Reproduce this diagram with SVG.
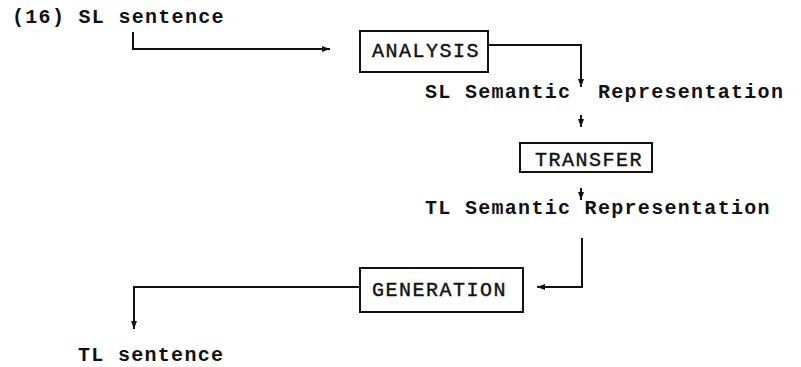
<svg xmlns="http://www.w3.org/2000/svg" width="801" height="367" viewBox="0 0 801 367">
<style>
  .t { font-family: "Liberation Mono", "DejaVu Sans Mono", monospace; font-size: 20px; font-weight: bold; letter-spacing: 1.3px; fill: #111; }
  .b { font-family: "Liberation Mono", "DejaVu Sans Mono", monospace; font-size: 20px; font-weight: normal; letter-spacing: 1.5px; fill: #111; stroke: #111; stroke-width: 0.4; }
  .box { fill: #fff; stroke: #111; stroke-width: 2; }
  .c { fill: none; stroke: #111; stroke-width: 2; }
</style>
<defs>
  <marker id="ah" markerUnits="userSpaceOnUse" markerWidth="9" markerHeight="8" refX="8" refY="4" orient="auto">
    <path d="M0,1 L8,4 L0,7 Z" fill="#111"/>
  </marker>
</defs>
<rect width="801" height="367" fill="#fff"/>

<g id="connectors">
  <path class="c" d="M133,32 V49 H330" marker-end="url(#ah)"/>
  <path class="c" d="M488,45 H581 V87" marker-end="url(#ah)"/>
  <path class="c" d="M581,115 V127" marker-end="url(#ah)"/>
  <path class="c" d="M581,188 V200" marker-end="url(#ah)"/>
  <path class="c" d="M582,238 V287 H537" marker-end="url(#ah)"/>
  <path class="c" d="M360,287 H134 V329" marker-end="url(#ah)"/>
</g>

<g id="sl-sentence">
  <text class="t" x="12" y="23">(16) SL sentence</text>
</g>

<g id="analysis">
  <rect class="box" x="360" y="31" width="128" height="41"/>
  <text class="b" x="372" y="57">ANALYSIS</text>
</g>

<g id="sl-semantic">
  <text class="t" x="425" y="98">SL Semantic</text>
  <text class="t" x="598" y="98">Representation</text>
</g>

<g id="transfer">
  <rect class="box" x="520" y="143" width="132" height="29"/>
  <text class="b" x="535" y="166">TRANSFER</text>
</g>

<g id="tl-semantic">
  <text class="t" x="425" y="214">TL Semantic Representation</text>
</g>

<g id="generation">
  <rect class="box" x="360" y="268" width="163" height="44"/>
  <text class="b" x="372" y="296">GENERATION</text>
</g>

<g id="tl-sentence">
  <text class="t" x="78" y="361">TL sentence</text>
</g>
</svg>
